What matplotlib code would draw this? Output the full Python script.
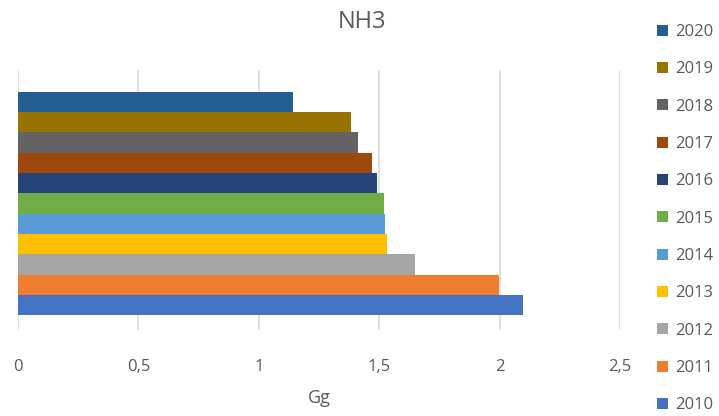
import matplotlib
matplotlib.use("Agg")
import matplotlib.pyplot as plt
from matplotlib.patches import Patch

years = ["2010", "2011", "2012", "2013", "2014", "2015", "2016", "2017", "2018", "2019", "2020"]
values = [2.098, 1.998, 1.647, 1.534, 1.526, 1.520, 1.492, 1.469, 1.411, 1.383, 1.144]
colors = ["#4472C4", "#ED7D31", "#A5A5A5", "#FFC000", "#5B9BD5", "#70AD47",
          "#264478", "#9E480E", "#636363", "#997300", "#255E91"]
xticks = [0, 0.5, 1, 1.5, 2, 2.5]
xticklabels = ["0", "0,5", "1", "1,5", "2", "2,5"]

plt.rcParams['font.family'] = ['Open Sans', 'DejaVu Sans']
txt = "#595959"

fig = plt.figure(figsize=(7.19, 4.16), dpi=100)
ax = fig.add_axes([18/719, 1-330/416, (620-18)/719, (330-70)/416])

n = len(years)
group = 0.86
h = group / n
center = -0.013
for i, (y, v, c) in enumerate(zip(years, values, colors)):
    pos = center - group/2 + h*(i + 0.5)
    ax.barh(pos, v, height=h, color=c, zorder=3)

ax.set_xlim(0, 2.5)
ax.set_ylim(-0.5, 0.5)
ax.set_yticks([])
ax.set_xticks(xticks)
ax.set_xticklabels(xticklabels, color=txt, fontsize=12)
ax.tick_params(axis='x', length=0, pad=21)
ax.grid(axis='x', color="#D9D9D9", linewidth=1.2, zorder=0)
for s in ax.spines.values():
    s.set_visible(False)
ax.set_xlabel("Gg", color=txt, fontsize=13, labelpad=10)

fig.text(362/719, 1-22/416, "NH3", ha='center', va='center', color=txt, fontsize=17)

handles = [Patch(facecolor=c, edgecolor='none') for c in colors][::-1]
labels = years[::-1]
fig.legend(handles, labels, loc='upper left', bbox_to_anchor=(657/719, 1-24/416),
           frameon=False, fontsize=12, labelcolor=txt, handlelength=0.65, handleheight=0.65,
           handletextpad=0.45, labelspacing=1.28, borderaxespad=0, borderpad=0)

fig.savefig("out.png", dpi=100)
